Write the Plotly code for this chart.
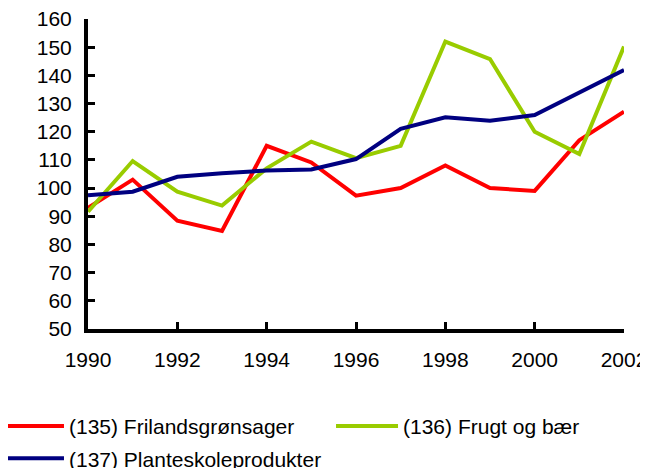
import plotly.graph_objects as go

years = list(range(1990, 2003))
frilands = [93, 103, 88.4, 84.8, 115, 109.1, 97.3, 100, 108, 100, 99, 117, 127.1]
frugt = [91.6, 109.6, 98.7, 93.8, 107, 116.5, 110.6, 115, 152, 145.8, 120, 112.1, 150.2]
plante = [97.5, 98.7, 104, 105.3, 106.2, 106.6, 110.3, 121, 125.1, 123.9, 125.9, 133.9, 141.9]

names = ["(135) Frilandsgrønsager", "(136) Frugt og bær", "(137) Planteskoleprodukter"]
colors = ["#FF0000", "#99CC00", "#000080"]
series = [frilands, frugt, plante]
legend_ids = ["legend", "legend2", "legend"]
groups = ["g135", "g136", "g137"]

fig = go.Figure()
for name, col, vals, lg, grp in zip(names, colors, series, legend_ids, groups):
    fig.add_trace(go.Scatter(x=years, y=vals, mode="lines", name=name,
                             line=dict(color=col, width=4), legend=lg, legendgroup=grp))

legend_common = dict(orientation="v", xanchor="left", y=-0.248, yanchor="top",
                     itemwidth=62, font=dict(size=21), tracegroupgap=2,
                     bgcolor="rgba(0,0,0,0)")

# page body has an 8px default margin, so the figure is 640x460 and offset by 8px
fig.update_layout(
    width=640, height=460,
    margin=dict(l=80, r=24, t=11, b=139, autoexpand=False),
    plot_bgcolor="white", paper_bgcolor="white",
    font=dict(family="Liberation Sans, Arial, sans-serif", size=21, color="black"),
    showlegend=True,
    legend=dict(x=-0.1698, **legend_common),
    legend2=dict(x=0.4534, **legend_common),
)
fig.update_xaxes(range=[1990, 2002], tickvals=[1990, 1992, 1994, 1996, 1998, 2000, 2002],
                 showline=True, linecolor="black", linewidth=4, ticks="inside",
                 ticklen=7, tickwidth=3, tickcolor="black", showgrid=False, zeroline=False,
                 ticklabelstandoff=9, automargin=False, ticklabeloverflow="allow")
fig.update_yaxes(range=[50, 160], dtick=10, showline=True, linecolor="black", linewidth=4,
                 ticks="inside", ticklen=7, tickwidth=3, tickcolor="black",
                 showgrid=False, zeroline=False, ticklabelstandoff=8, automargin=False,
                 ticklabeloverflow="allow")

fig.write_html("out.html")
